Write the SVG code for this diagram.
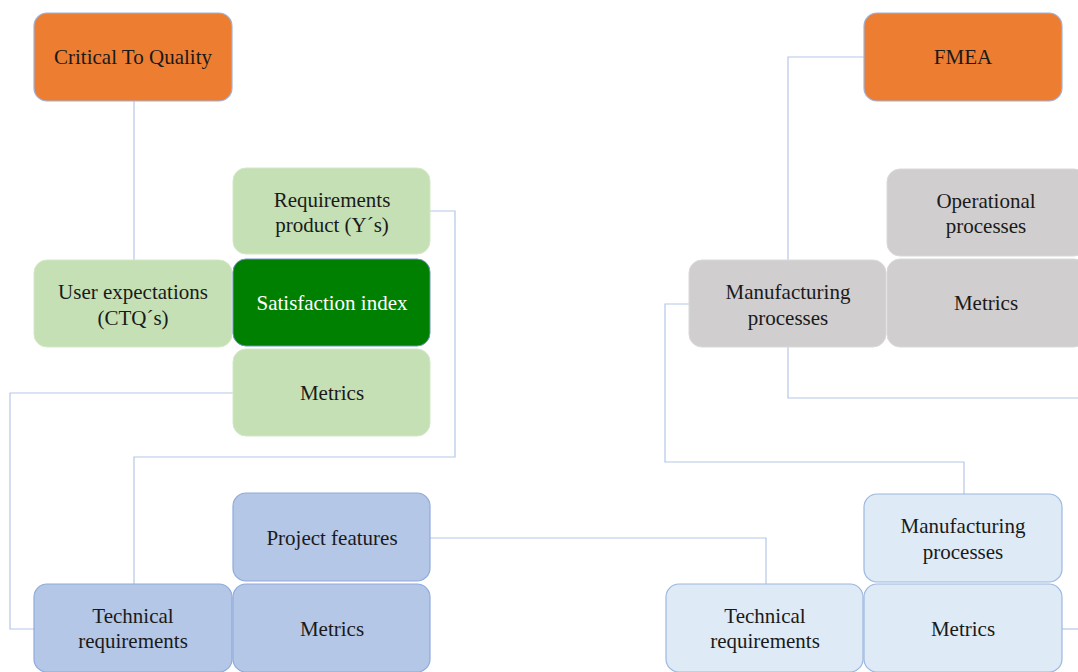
<svg xmlns="http://www.w3.org/2000/svg" width="1078" height="672" viewBox="0 0 1078 672">
<style>
text{font-family:'Liberation Serif','Times New Roman','DejaVu Serif',serif;font-size:21px;fill:#1a1a1a;text-anchor:middle}
.w{fill:#ffffff}
.orange{fill:#ED7D31;stroke:#9DB3DE;stroke-width:1.2}
.lg{fill:#C5E0B4;stroke:#D3E8C6;stroke-width:1}
.dg{fill:#008000;stroke:#6F8FC8;stroke-width:1}
.bl{fill:#B4C7E7;stroke:#8FAADC;stroke-width:1.2}
.gr{fill:#D0CECE;stroke:#DAD8D8;stroke-width:1}
.lb{fill:#DEEBF7;stroke:#9DB7E0;stroke-width:1.2}
.c{fill:none;stroke:#B4C7E7;stroke-width:1.2}
</style>
<rect width="1078" height="672" fill="#ffffff"/>
<g id="connectors">
<path class="c" d="M134 101 V260"/>
<path class="c" d="M430 211 H455 V457 H134 V584"/>
<path class="c" d="M233 393 H10 V629 H34"/>
<path class="c" d="M430 538 H766 V584"/>
<path class="c" d="M864 57 H788 V260"/>
<path class="c" d="M788 347 V398 H1078"/>
<path class="c" d="M689 304 H665 V462 H964 V494"/>
<path class="c" d="M1062 629 H1078"/>
</g>
<g font-family="Liberation Serif, serif">
<g id="ctq"><rect class="orange" x="34" y="13" width="198" height="88" rx="13"/><text x="133" y="64">Critical To Quality</text></g>
<g id="req-product"><rect class="lg" x="233" y="168" width="197" height="86" rx="13"/><text x="332" y="207">Requirements</text><text x="332" y="232">product (Y´s)</text></g>
<g id="user-exp"><rect class="lg" x="34" y="260" width="198" height="87" rx="13"/><text x="133" y="299">User expectations</text><text x="133" y="325">(CTQ´s)</text></g>
<g id="satisfaction"><rect class="dg" x="233" y="259" width="197" height="87" rx="13"/><text class="w" x="332" y="310">Satisfaction index</text></g>
<g id="metrics-green"><rect class="lg" x="233" y="349" width="197" height="87" rx="13"/><text x="332" y="400">Metrics</text></g>
<g id="project-features"><rect class="bl" x="233" y="493" width="197" height="88" rx="13"/><text x="332" y="545">Project features</text></g>
<g id="tech-req-left"><rect class="bl" x="34" y="584" width="198" height="88" rx="13"/><text x="133" y="623">Technical</text><text x="133" y="648">requirements</text></g>
<g id="metrics-blue"><rect class="bl" x="233" y="584" width="197" height="88" rx="13"/><text x="332" y="636">Metrics</text></g>
<g id="fmea"><rect class="orange" x="864" y="13" width="198" height="88" rx="13"/><text x="963" y="64">FMEA</text></g>
<g id="operational"><rect class="gr" x="887" y="169" width="200" height="87" rx="13"/><text x="986" y="208">Operational</text><text x="986" y="233">processes</text></g>
<g id="manufacturing-grey"><rect class="gr" x="689" y="260" width="197" height="87" rx="13"/><text x="788" y="299">Manufacturing</text><text x="788" y="325">processes</text></g>
<g id="metrics-grey"><rect class="gr" x="887" y="259" width="200" height="88" rx="13"/><text x="986" y="310">Metrics</text></g>
<g id="manufacturing-lb"><rect class="lb" x="864" y="494" width="198" height="88" rx="13"/><text x="963" y="533">Manufacturing</text><text x="963" y="559">processes</text></g>
<g id="tech-req-right"><rect class="lb" x="666" y="584" width="197" height="88" rx="13"/><text x="765" y="623">Technical</text><text x="765" y="648">requirements</text></g>
<g id="metrics-lb"><rect class="lb" x="864" y="584" width="198" height="88" rx="13"/><text x="963" y="636">Metrics</text></g>
</g>
</svg>
